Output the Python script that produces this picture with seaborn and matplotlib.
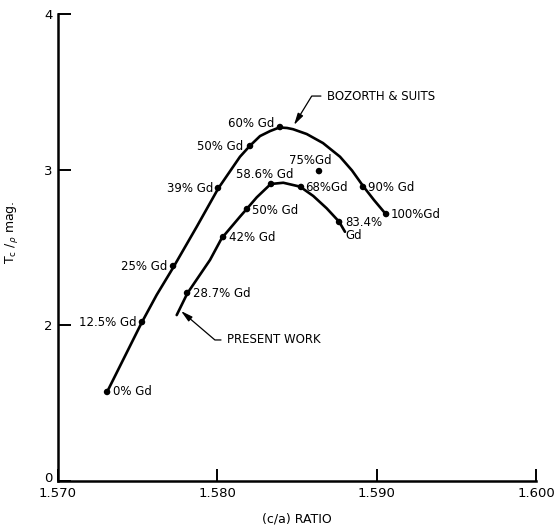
import matplotlib
matplotlib.use("Agg")

import pandas as pd
import matplotlib.pyplot as plt
import matplotlib.transforms as mtransforms
import seaborn as sns

# Data (c/a ratio vs Tc / rho mag.)

# Bozorth & Suits measured points
bz_labels = ["0% Gd", "12.5% Gd", "25% Gd", "39% Gd", "50% Gd", "60% Gd", "90% Gd", "100%Gd"]
bz_ratio = [1.57308, 1.57527, 1.57722, 1.58004, 1.58205, 1.58393, 1.58914, 1.59059]
bz_tc = [1.572, 2.021, 2.381, 2.882, 3.152, 3.274, 2.889, 2.715]

# lone 75% point
extra_label = ["75%Gd"]
extra_ratio = [1.58638]
extra_tc = [2.991]

# present work measured points
pw_labels = ["28.7% Gd", "42% Gd", "50% Gd", "58.6% Gd", "68%Gd", "83.4%\nGd"]
pw_ratio = [1.57810, 1.58036, 1.58186, 1.58337, 1.58525, 1.58764]
pw_tc = [2.208, 2.567, 2.747, 2.908, 2.889, 2.664]

# hand drawn curves
bz_curve_ratio = [1.57309, 1.57525, 1.57619, 1.57724, 1.57871, 1.58006, 1.58142, 1.58205,
                  1.58268, 1.58331, 1.58389, 1.58437, 1.58475, 1.58561, 1.58663, 1.58770,
                  1.58845, 1.58916, 1.58983, 1.59057]
bz_curve_tc = [1.574, 2.017, 2.195, 2.373, 2.634, 2.880, 3.083, 3.154,
               3.216, 3.248, 3.271, 3.268, 3.260, 3.229, 3.171, 3.083,
               2.995, 2.893, 2.805, 2.715]

pw_curve_ratio = [1.57745, 1.57812, 1.57954, 1.58027, 1.58142, 1.58184, 1.58247, 1.58335,
                  1.58414, 1.58519, 1.58602, 1.58686, 1.58764, 1.58801]
pw_curve_tc = [2.066, 2.206, 2.420, 2.559, 2.698, 2.747, 2.822, 2.908,
               2.916, 2.891, 2.831, 2.752, 2.666, 2.601]

x_ticks = [1.570, 1.580, 1.590, 1.600]
x_ticklabels = ["1.570", "1.580", "1.590", "1.600"]
y_ticks = [1, 2, 3, 4]
y_ticklabels = ["0", "2", "3", "4"]   # broken axis in the original

# label placement (offset in pixels, alignment)
bz_offsets = [(6, 0, "left"), (-5, 0, "right"), (-6, 0, "right"), (-5, 0, "right"),
              (-7, 0, "right"), (-6, 4, "right"), (5, -1, "left"), (5, 0, "left")]
extra_offsets = [(-9, 11, "center")]
pw_offsets = [(6, -1, "left"), (6, 0, "left"), (5, -1, "left"), (-35, 9, "left"),
              (4, -1, "left"), (6, -7, "left")]

sns.set_style("ticks")
plt.rcParams["font.family"] = ["DejaVu Sans"]
plt.rcParams["text.color"] = "black"
plt.rcParams["axes.labelcolor"] = "black"
plt.rcParams["xtick.color"] = "black"
plt.rcParams["ytick.color"] = "black"

fig = plt.figure(figsize=(5.55, 5.27), dpi=100)
ax = fig.add_axes([0.1045, 0.0873, 0.8613, 0.8861])

bz_curve = pd.DataFrame({"ratio": bz_curve_ratio, "tc": bz_curve_tc})
pw_curve = pd.DataFrame({"ratio": pw_curve_ratio, "tc": pw_curve_tc})

for curve in [bz_curve, pw_curve]:
    sns.lineplot(data=curve, x="ratio", y="tc", sort=False, color="black", lw=1.9,
                 solid_joinstyle="round", ax=ax)

points = pd.DataFrame({
    "ratio": bz_ratio + extra_ratio + pw_ratio,
    "tc": bz_tc + extra_tc + pw_tc,
})
sns.scatterplot(data=points, x="ratio", y="tc", color="black", s=22,
                edgecolor="none", zorder=3, clip_on=False, ax=ax)

# point labels
groups = [
    (bz_labels, bz_ratio, bz_tc, bz_offsets),
    (extra_label, extra_ratio, extra_tc, extra_offsets),
    (pw_labels, pw_ratio, pw_tc, pw_offsets),
]
for labels, xs, ys, offs in groups:
    for lab, x, y, (dx, dy, ha) in zip(labels, xs, ys, offs):
        ax.annotate(lab, xy=(x, y), xytext=(dx, dy), textcoords="offset pixels",
                    ha=ha, va="center", fontsize=8.5, linespacing=1.0)

# curve call-outs
arrow = dict(arrowstyle="-|>,head_length=0.7,head_width=0.18", color="black",
             lw=0.9, shrinkA=2, shrinkB=0, mutation_scale=10)

ax.annotate("BOZORTH & SUITS", xy=(1.58481, 3.287), xytext=(1.58688, 3.473),
            ha="left", va="center", fontsize=8.5,
            arrowprops=dict(arrow, connectionstyle="angle,angleA=0,angleB=58.5,rad=0"))

ax.annotate("PRESENT WORK", xy=(1.57772, 2.092), xytext=(1.58061, 1.906),
            ha="left", va="center", fontsize=8.5,
            arrowprops=dict(arrow, connectionstyle="angle,angleA=0,angleB=-40.5,rad=0"))

# Axes

ax.set_xlim(1.570, 1.600)
ax.set_ylim(1, 4)

ax.set_xticks(x_ticks)
ax.set_xticklabels(x_ticklabels)
ax.set_yticks(y_ticks)
ax.set_yticklabels(y_ticklabels)

ax.tick_params(direction="in", length=9, width=1.4, labelsize=9.5, pad=4, color="black")

# lift the bottom "0" a little so it clears "1.570"
zero = ax.get_yticklabels()[0]
zero.set_transform(zero.get_transform() +
                   mtransforms.ScaledTranslation(0, 3 / 72, fig.dpi_scale_trans))

sns.despine(ax=ax)
for side in ["left", "bottom"]:
    ax.spines[side].set_linewidth(1.8)
    ax.spines[side].set_color("black")

ax.set_xlabel("(c/a) RATIO", fontsize=9)
ax.set_ylabel(r"T$_\mathrm{c}$ /$_\rho$ mag.", fontsize=9)
ax.xaxis.set_label_coords(0.5, -0.068)
ax.yaxis.set_label_coords(-0.079, 0.533)

fig.savefig("out.png", dpi=100)
